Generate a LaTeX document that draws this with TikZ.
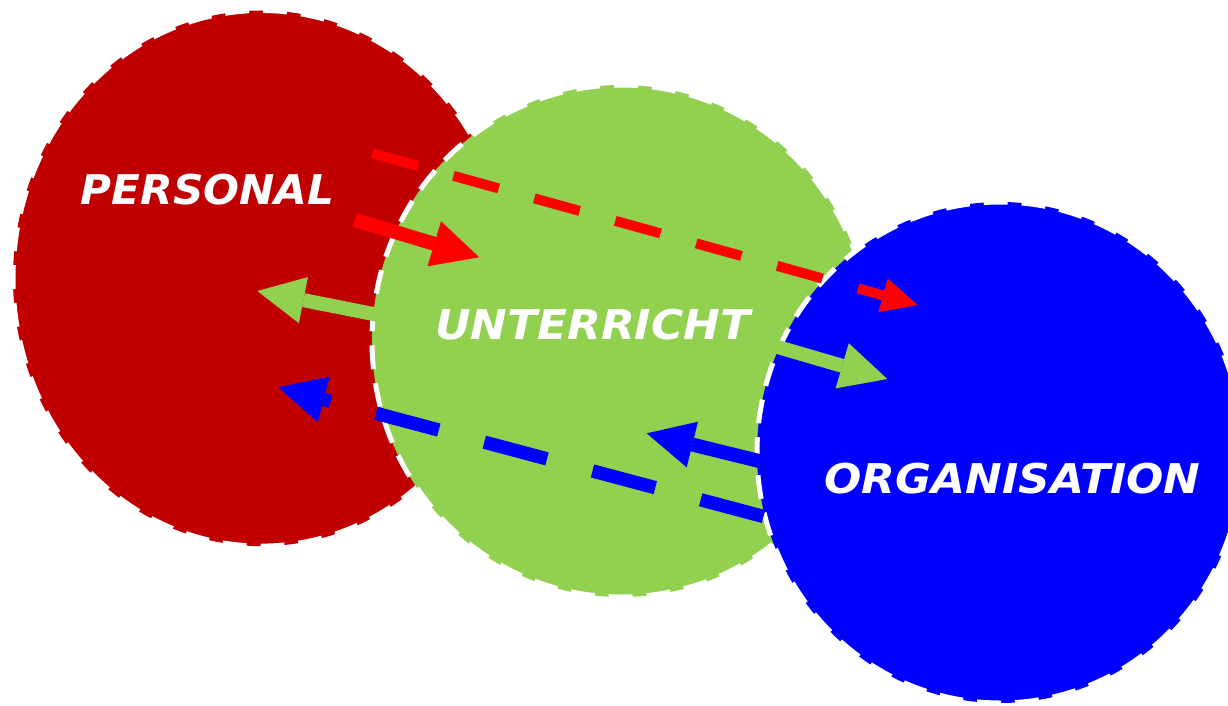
\documentclass[tikz,border=0pt]{standalone}
\usepackage{fontspec}
\newfontfamily\labfont{DejaVu Sans Bold Oblique}
\usetikzlibrary{shapes.geometric,arrows.meta}
\definecolor{cred}{HTML}{C00000}
\definecolor{cgreen}{HTML}{92D050}
\definecolor{cblue}{HTML}{0000FF}
\definecolor{ared}{HTML}{FF0000}
\begin{document}
\begin{tikzpicture}[x=1pt,y=-1pt,
  blob/.style={ellipse, inner sep=0pt, outer sep=0pt, draw=white, line width=5pt, dash pattern=on 24pt off 14pt},
  lbl/.style={text=white, font=\labfont\fontsize{41}{41}\selectfont, inner sep=0pt, xscale=1.07},
  conn/.style={line width=14pt, -{Triangle[length=47pt,width=47pt,line width=0pt]}},
  dconn/.style={line width=10pt, dash pattern=on 47pt off 37pt, -{Triangle[length=36pt,width=35pt,line width=0pt]}},
  bconn/.style={line width=13.4pt, dash pattern=on 65pt off 47pt, -{Triangle[length=47pt,width=47pt,line width=0pt]}}
]
\useasboundingbox (0,0) rectangle (1228,706);
\fill[white] (0,0) rectangle (1228,706);
\clip (0,0) rectangle (1228,706);
% circles
\node[blob, fill=cred, minimum width=496.8pt, minimum height=535.6pt] (red) at (261.4,278.3) {};
\node[blob, fill=cgreen, minimum width=498.4pt, minimum height=512pt] (green) at (621.2,341) {};
\node[blob, fill=cblue, minimum width=486pt, minimum height=501pt] (blue) at (1000,452.5) {};
% connector end points
\coordinate (rs1) at (355,220);
\coordinate (rs2) at (479.3,257.3);
\coordinate (gl1) at (390,317.3);
\coordinate (gl2) at (257.3,291);
\coordinate (gr1) at (770.2,344.8);
\coordinate (gr2) at (887.3,379);
\coordinate (bs1) at (774.9,464.9);
\coordinate (bs2) at (646.7,433.3);
\coordinate (rd1) at (372.5,153.3);
\coordinate (rd2) at (917.7,305);
\coordinate (bd1) at (763.5,516.5);
\coordinate (bd2) at (278.3,387.3);
% connectors
\draw[conn, ared] (rs1) -- (rs2);
\draw[conn, cgreen] (gl1) -- (gl2);
\draw[conn, cgreen] (gr1) -- (gr2);
\draw[conn, cblue] (bs1) -- (bs2);
\draw[dconn, ared] (rd1) -- (rd2);
\draw[bconn, cblue] (bd1) -- (bd2);
% labels
\node[lbl, xscale=0.963] (lp) at (207.5,190) {PERSONAL};
\node[lbl] (lu) at (592.6,324.2) {UNTERRICHT};
\node[lbl] (lo) at (1012.5,479) {ORGANISATION};
\end{tikzpicture}
\end{document}
